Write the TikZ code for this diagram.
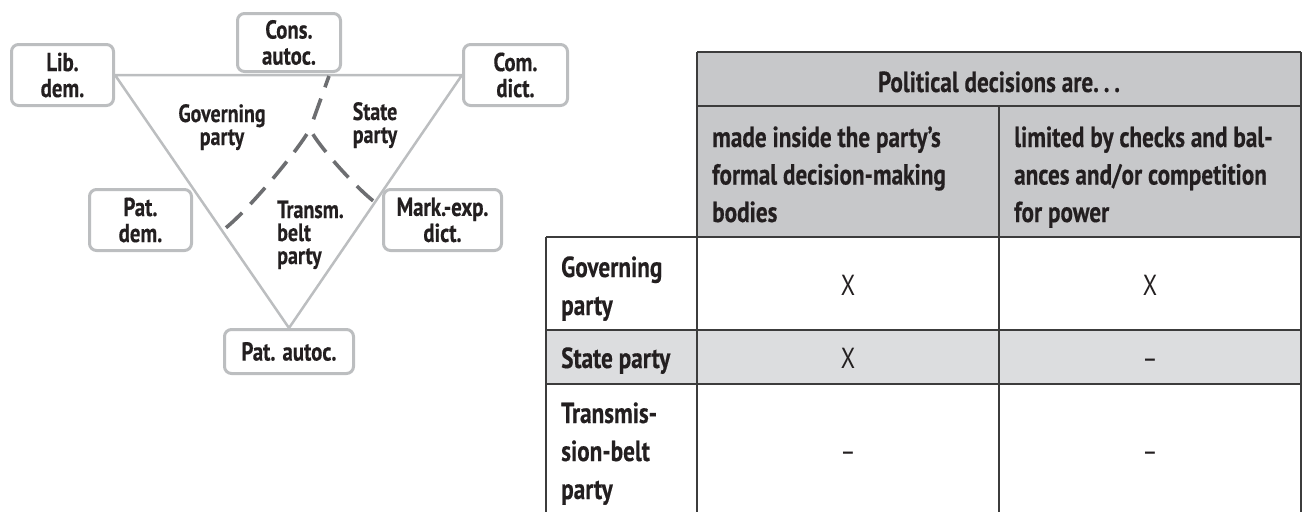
\documentclass[tikz,border=0pt]{standalone}
\usepackage{fontspec}
\setmainfont{PT Sans}[FakeStretch=0.80, BoldFeatures={FakeBold=0.4}]
\usetikzlibrary{backgrounds}
\definecolor{boxgray}{HTML}{BCBEC0}
\definecolor{dashgray}{HTML}{6D6E71}
\definecolor{hdrgray}{HTML}{C7C8CA}
\definecolor{rowgray}{HTML}{DCDDDF}
\definecolor{linegray}{HTML}{3C3C3C}
\definecolor{txt}{HTML}{231F20}
\newcommand\mycellfont{\bfseries\fontsize{29}{37.5}\selectfont}
\newcommand\mylblfont{\bfseries\fontsize{25}{24}\selectfont}
\newcommand\myboxfont{\bfseries\fontsize{26}{26}\selectfont}
\newcommand\mymarkfont{\fontsize{29}{30}\selectfont}
\tikzset{
  pbox/.style={draw=boxgray, line width=3pt, rounded corners=7pt, fill=white,
    inner sep=0pt, align=center, font=\myboxfont, text=txt},
  tri/.style={draw=boxgray, line width=2.5pt},
  split/.style={draw=dashgray, line width=3.6pt, dash pattern=on 22pt off 12pt},
  lbl/.style={inner sep=0pt, font=\mylblfont, text=txt},
  cell/.style={inner sep=0pt, font=\mycellfont, text=txt, anchor=base west},
  tick/.style={inner sep=0pt, font=\mymarkfont, text=txt, anchor=base},
  grid/.style={draw=linegray, line width=1.3pt}
}
\begin{document}
\begin{tikzpicture}[x=1pt, y=-1pt]
\useasboundingbox (0,0) rectangle (1303,512);

% ---- triangle diagram ----
\node[pbox, minimum width=102pt, minimum height=61pt] (lib)  at (62.5,75)   {Lib.\\dem.};
\node[pbox, minimum width=103pt, minimum height=58pt] (cons) at (289,42.5)  {Cons.\\autoc.};
\node[pbox, minimum width=104pt, minimum height=61pt] (com)  at (515.5,75)  {Com.\\dict.};
\node[pbox, minimum width=102pt, minimum height=61pt] (patd) at (140.5,220) {Pat.\\dem.};
\node[pbox, minimum width=118pt, minimum height=61pt] (mark) at (442.5,220) {Mark.-exp.\\dict.};
\node[pbox, minimum width=129pt, minimum height=44pt] (pata) at (289,351.5) {Pat. autoc.};

\coordinate (dtop)   at (329,76);
\coordinate (J)      at (310,129);
\coordinate (dleft)  at (223,230);
\coordinate (dright) at (376,203);

\begin{scope}[on background layer]
  \draw[tri] (lib.east) -- (com.west) -- (pata.north) -- cycle;
  \draw[split, dash phase=10pt] (dtop) -- (J);
  \draw[split, dash phase=28pt] (J) .. controls (297,152) and (245,214) .. (dleft);
  \draw[split, dash phase=28pt] (J) .. controls (318,146) and (358,190) .. (dright);
\end{scope}

\node[lbl, anchor=base] (gov1) at (222,122) {Governing};
\node[lbl, anchor=base] (gov2) at (222,145) {party};
\node[lbl, anchor=base] (st1)  at (375,120) {State};
\node[lbl, anchor=base] (st2)  at (375,143) {party};
\node[lbl, anchor=base west] (tr1) at (277,218) {Transm.};
\node[lbl, anchor=base west] (tr2) at (277,241) {belt};
\node[lbl, anchor=base west] (tr3) at (277,264) {party};

% ---- table ----
\fill[hdrgray] (697,52) rectangle (1301,237);
\fill[rowgray] (546,330) rectangle (1301,384);
\draw[grid] (697,52) -- (1301,52);
\draw[grid] (697,106) -- (1301,106);
\draw[grid] (546,237) -- (1301,237);
\draw[grid] (546,330) -- (1301,330);
\draw[grid] (546,384) -- (1301,384);
\draw[grid] (546,237) -- (546,512);
\draw[grid] (697,52) -- (697,512);
\draw[grid] (999,106) -- (999,512);
\draw[grid] (1301,52) -- (1301,512);

\node[cell, anchor=base] (hd) at (999,92) {Political decisions are.\,.\,.};
\node[cell] (a1) at (712,147)   {made inside the party’s};
\node[cell] (a2) at (712,184.5) {formal decision-making};
\node[cell] (a3) at (712,222)   {bodies};
\node[cell] (b1) at (1014,147)   {limited by checks and bal-};
\node[cell] (b2) at (1014,184.5) {ances and/or competition};
\node[cell] (b3) at (1014,222)   {for power};

\node[cell] (r1a) at (561,277) {Governing};
\node[cell] (r1b) at (561,315) {party};
\node[cell] (r2)  at (561,368) {State party};
\node[cell] (r3a) at (561,423) {Transmis-};
\node[cell] (r3b) at (561,461) {sion-belt};
\node[cell] (r3c) at (561,499) {party};

\node[tick] (x11) at (848,295)  {X};
\node[tick] (x12) at (1150,295) {X};
\node[tick] (x21) at (848,368)  {X};
\node[tick] (x22) at (1150,368) {–};
\node[tick] (x31) at (848,461)  {–};
\node[tick] (x32) at (1150,461) {–};
\end{tikzpicture}
\end{document}
